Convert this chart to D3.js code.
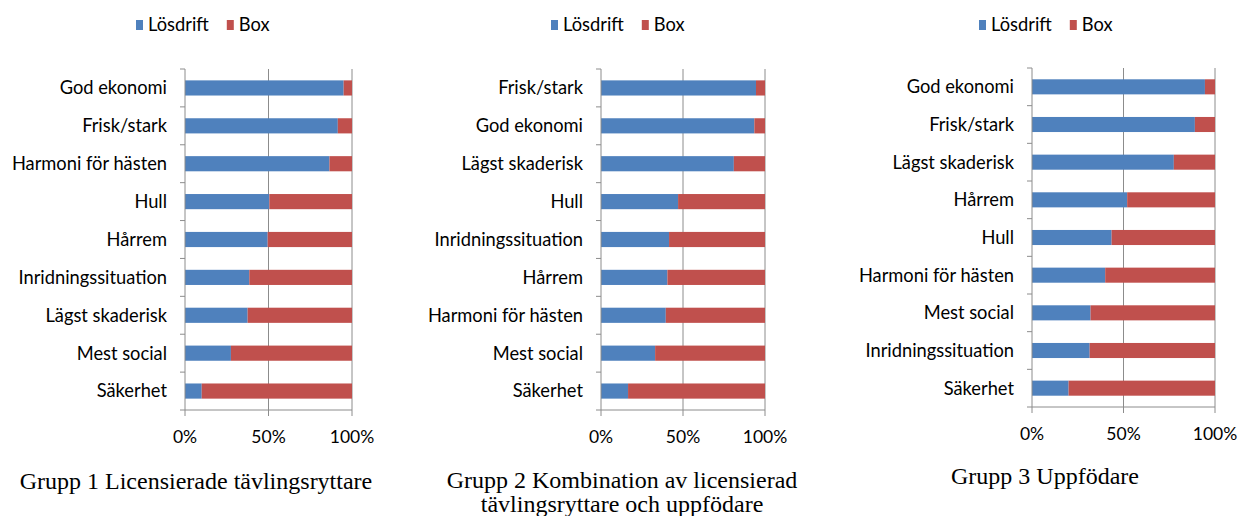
<!DOCTYPE html>
<html>
<head>
<meta charset="UTF-8">
<script src="https://d3js.org/d3.v7.min.js"></script>
<style>
body { margin: 0; background: #fff; }
text { fill: #000; }
.cat, .legend { font-family: Lato, "Open Sans", sans-serif; font-size: 18.3px; }
.tick-lbl { font-family: Lato, "Open Sans", sans-serif; font-size: 17.5px; }
.caption { font-family: "Liberation Serif", "Times New Roman", serif; font-size: 24px; }
</style>
</head>
<body>
<svg width="1241" height="516"></svg>
<script>

// Share "Lösdrift" in percent; "Box" is the rest up to 100%
var seriesNames = ["Lösdrift", "Box"];
var tickLabels = ["0%", "50%", "100%"];

var cats1 = ["God ekonomi", "Frisk/stark", "Harmoni för hästen", "Hull", "Hårrem",
             "Inridningssituation", "Lägst skaderisk", "Mest social", "Säkerhet"];
var losdrift1 = [95, 91.5, 86.5, 50.5, 49.5, 38.5, 37.5, 27.5, 10];

var cats2 = ["Frisk/stark", "God ekonomi", "Lägst skaderisk", "Hull", "Inridningssituation",
             "Hårrem", "Harmoni för hästen", "Mest social", "Säkerhet"];
var losdrift2 = [94.5, 93.5, 81, 47, 41.5, 40.5, 39.5, 33, 16.5];

var cats3 = ["God ekonomi", "Frisk/stark", "Lägst skaderisk", "Hårrem", "Hull",
             "Harmoni för hästen", "Mest social", "Inridningssituation", "Säkerhet"];
var losdrift3 = [94.5, 89, 77.5, 52, 43.5, 40, 32, 31.5, 20];

var captions1 = ["Grupp 1 Licensierade tävlingsryttare"];
var captions2 = ["Grupp 2 Kombination av licensierad", "tävlingsryttare och uppfödare"];
var captions3 = ["Grupp 3 Uppfödare"];

var colors = d3.scaleOrdinal().domain(seriesNames).range(["#4f81bd", "#c0504d"]);

var svg = d3.select("svg");

var panels = [
  {cats: cats1, vals: losdrift1, caps: captions1, x0: 185, x1: 352, top: 69, bottom: 410, capX: 196, capY: 489, legX: 136},
  {cats: cats2, vals: losdrift2, caps: captions2, x0: 601, x1: 765, top: 69, bottom: 410, capX: 622, capY: 488, legX: 551},
  {cats: cats3, vals: losdrift3, caps: captions3, x0: 1032, x1: 1215, top: 68, bottom: 407, capX: 1045, capY: 484, legX: 979}
];

panels.forEach(function(p) {
  var x = d3.scaleLinear().domain([0, 100]).range([p.x0, p.x1]);
  var y = d3.scaleBand().domain(p.cats).range([p.top, p.bottom]).paddingInner(0.6).paddingOuter(0.3);
  var yb = d3.scaleBand().domain(p.cats).range([p.top, p.bottom]);

  var rows = p.cats.map(function(c, i) { return {cat: c, "Lösdrift": p.vals[i], "Box": 100 - p.vals[i]}; });
  var stacked = d3.stack().keys(seriesNames)(rows);

  var g = svg.append("g");

  // gridlines at 50% and 100%
  g.selectAll(".grid").data([50, 100]).enter().append("line")
    .attr("x1", function(d) { return x(d); }).attr("x2", function(d) { return x(d); })
    .attr("y1", p.top).attr("y2", p.bottom)
    .attr("stroke", "#8c8c8c").attr("stroke-width", 1);

  g.selectAll(".series").data(stacked).enter().append("g")
    .attr("fill", function(d) { return colors(d.key); })
    .selectAll("rect").data(function(d) { return d; }).enter().append("rect")
      .attr("x", function(d) { return x(d[0]); })
      .attr("width", function(d) { return x(d[1]) - x(d[0]); })
      .attr("y", function(d) { return y(d.data.cat); })
      .attr("height", y.bandwidth());

  // left axis
  var yAxis = g.append("g").attr("transform", "translate(" + p.x0 + ",0)");
  yAxis.append("line").attr("x1", 0).attr("x2", 0).attr("y1", p.top).attr("y2", p.bottom)
    .attr("stroke", "#8c8c8c");
  var bounds = p.cats.map(function(c) { return yb(c); }).concat([p.bottom]);
  yAxis.selectAll(".tk").data(bounds).enter().append("line")
    .attr("x1", -5).attr("x2", 0).attr("y1", function(d) { return d; }).attr("y2", function(d) { return d; })
    .attr("stroke", "#8c8c8c");
  yAxis.selectAll(".cat").data(p.cats).enter().append("text")
    .attr("class", "cat")
    .attr("x", -18)
    .attr("y", function(d) { return yb(d) + yb.bandwidth() / 2; })
    .attr("dy", "0.35em")
    .attr("text-anchor", "end")
    .text(function(d) { return d; });

  // bottom axis
  var xAxis = g.append("g").attr("transform", "translate(0," + p.bottom + ")");
  xAxis.append("line").attr("x1", p.x0).attr("x2", p.x1).attr("y1", 0).attr("y2", 0).attr("stroke", "#8c8c8c");
  xAxis.selectAll(".xt").data([0, 50, 100]).enter().append("line")
    .attr("x1", function(d) { return x(d); }).attr("x2", function(d) { return x(d); })
    .attr("y1", 0).attr("y2", 6).attr("stroke", "#8c8c8c");
  xAxis.selectAll(".tick-lbl").data([0, 50, 100]).enter().append("text")
    .attr("class", "tick-lbl")
    .attr("x", function(d) { return x(d); })
    .attr("y", 27)
    .attr("dy", "0.35em")
    .attr("text-anchor", "middle")
    .text(function(d, i) { return tickLabels[i]; });

  // legend
  var leg = svg.append("g").attr("transform", "translate(" + p.legX + ",25)");
  var lx = 0;
  seriesNames.forEach(function(s) {
    leg.append("rect").attr("x", lx).attr("y", -5).attr("width", 7).attr("height", 10).attr("fill", colors(s));
    var t = leg.append("text").attr("class", "legend").attr("x", lx + 12).attr("dy", "0.35em").text(s);
    lx += 12 + t.node().getComputedTextLength() + 18;
  });

  // caption
  svg.selectAll(null).data(p.caps).enter().append("text")
    .attr("class", "caption")
    .attr("x", p.capX)
    .attr("y", function(d, i) { return p.capY + i * 24; })
    .attr("text-anchor", "middle")
    .text(function(d) { return d; });
});

</script>
</body>
</html>
